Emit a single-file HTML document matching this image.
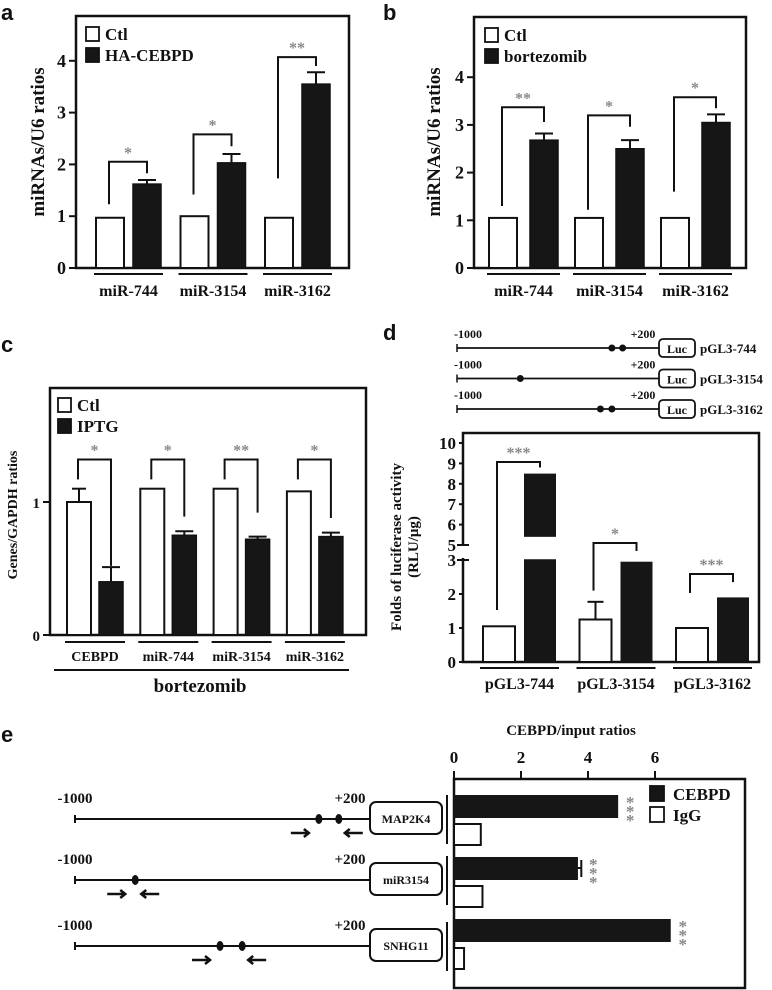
<!DOCTYPE html>
<html><head><meta charset="utf-8"><style>
html,body{margin:0;padding:0;background:#fff;}
svg{display:block;}
text{font-family:"Liberation Serif",serif;font-weight:bold;fill:#111;}
.L{font-family:"Liberation Sans",sans-serif;font-size:22px;}
</style></head><body>
<svg id="fig" width="772" height="990" viewBox="0 0 772 990" xmlns="http://www.w3.org/2000/svg">
<text class="L" x="1" y="20">a</text>
<text class="L" x="383" y="20">b</text>
<text class="L" x="1" y="352">c</text>
<text class="L" x="383" y="340">d</text>
<text class="L" x="1" y="742">e</text>
</svg>
<script>
// ---- Panel a data
const aCats=['miR-744','miR-3154','miR-3162'];
const aCtl=[0.97,1.0,0.97];
const aTrt=[1.62,2.03,3.55];
const aTrtErr=[0.08,0.17,0.23];
const aTicks=[0,1,2,3,4];
const aBrackets=[[1.23,2.05,1.83],[1.42,2.58,2.35],[1.73,4.07,3.9]];
const aStars=['*','*','**'];
// ---- Panel b data
const bCats=['miR-744','miR-3154','miR-3162'];
const bCtl=[1.05,1.05,1.05];
const bTrt=[2.68,2.5,3.05];
const bTrtErr=[0.14,0.18,0.17];
const bTicks=[0,1,2,3,4];
const bBrackets=[[1.3,3.37,3.06],[1.22,3.2,2.96],[1.6,3.58,3.35]];
const bStars=['**','*','*'];
// ---- Panel c data
const cCats=['CEBPD','miR-744','miR-3154','miR-3162'];
const cCtl=[1.0,1.1,1.1,1.08];
const cCtlErr=[0.1,0,0,0];
const cTrt=[0.4,0.75,0.72,0.74];
const cTrtErr=[0.11,0.03,0.02,0.03];
const cTicks=[0,1];
const cBrackets=[[1.17,1.32,0.52],[1.17,1.32,0.89],[1.17,1.32,0.92],[1.17,1.32,0.88]];
const cStars=['*','*','**','*'];
// ---- Panel d data
const dCats=['pGL3-744','pGL3-3154','pGL3-3162'];
const dCtl=[1.05,1.25,1.0];
const dCtlErr=[0,0.52,0];
const dTrt=[8.5,2.95,1.9];
const dTicks=[0,1,2,3,5,6,7,8,9,10];
const dBreak=[3.1,5.4];
const dBrackets=[[1.53,9.07,8.8],[2.1,5.1,4.2],[2.03,2.59,2.35]];
const dStars=['***','*','***'];
const dConstructs=['pGL3-744','pGL3-3154','pGL3-3162'];
const dSites=[[-80,-16],[-624],[-148,-80]];
// ---- Panel e data
const eGenes=['MAP2K4','miR3154','SNHG11'];
const eCebpd=[4.9,3.7,6.47];
const eCebpdErr=[0,0.1,0];
const eIgg=[0.8,0.85,0.3];
const eTicks=[0,2,4,6];
const eSites=[[-8,73],[-755],[-410,-320]];

const svg=document.getElementById('fig');
const NS='http://www.w3.org/2000/svg';
function mk(tag,a){const e=document.createElementNS(NS,tag);for(const k in a)e.setAttribute(k,a[k]);svg.appendChild(e);return e;}
function ln(x1,y1,x2,y2,w,c){return mk('line',{x1:x1,y1:y1,x2:x2,y2:y2,stroke:c||'#111','stroke-width':w||2});}
function tx(x,y,s,size,anchor,fill){const t=mk('text',{x:x,y:y,'font-size':size,'text-anchor':anchor||'middle'});if(fill)t.setAttribute('style','fill:'+fill);t.textContent=s;return t;}

function barPanel(p){
  let el;
  el=mk('rect',{x:p.x0,y:p.y0,width:p.x1-p.x0,height:p.y1-p.y0,fill:'none',stroke:'#111','stroke-width':2.5});
  
  
  p.ticks.forEach(v=>{
    el=ln(p.x0-7,p.y(v),p.x0,p.y(v),2);
    
    
    el=tx(p.x0-10,p.y(v)+6,String(v),p.tickSize,'end');
    
    
  });
  p.cats.forEach((c,i)=>{
    const cx=p.first+i*p.step, tx0=cx+p.off;
    const y0=p.y(0);
    if(p.ctlErr&&p.ctlErr[i]>0){
      el=ln(cx+p.w/2,p.y(p.ctl[i]),cx+p.w/2,p.y(p.ctl[i]+p.ctlErr[i]),2);
      
      
      el=ln(cx+p.w/2-7,p.y(p.ctl[i]+p.ctlErr[i]),cx+p.w/2+7,p.y(p.ctl[i]+p.ctlErr[i]),2);
      
      
    }
    el=mk('rect',{x:cx,y:p.y(p.ctl[i]),width:p.w,height:y0-p.y(p.ctl[i]),fill:'#fff',stroke:'#111','stroke-width':2});
    
    
    if(p.trtErr[i]>0){
      el=ln(tx0+p.w/2,p.y(p.trt[i]),tx0+p.w/2,p.y(p.trt[i]+p.trtErr[i]),2);
      
      
      el=ln(tx0+p.w/2-9,p.y(p.trt[i]+p.trtErr[i]),tx0+p.w/2+9,p.y(p.trt[i]+p.trtErr[i]),2);
      
      
    }
    el=mk('rect',{x:tx0,y:p.y(p.trt[i]),width:p.w,height:y0-p.y(p.trt[i]),fill:'#161616',stroke:'#111','stroke-width':1.5});
    
    
    const b=p.br[i], lx=cx+p.w/2-1, rx=tx0+p.w/2;
    el=mk('polyline',{points:lx+','+p.y(b[0])+' '+lx+','+p.y(b[1])+' '+rx+','+p.y(b[1])+' '+rx+','+p.y(b[2]),fill:'none',stroke:'#111','stroke-width':2});
    
    
    el=tx((lx+rx)/2,p.y(b[1])-4,p.stars[i],16,'middle','#888');
    
    
    el=ln(cx-2,p.ulY,tx0+p.w+2,p.ulY,2);
    
    
    el=tx((cx+tx0+p.w)/2,p.labY,c,p.labSize);
    
    
  });
  p.legend.forEach((s,i)=>{
    el=mk('rect',{x:p.lx,y:p.ly+i*21,width:13,height:14,fill:i?'#161616':'#fff',stroke:'#111','stroke-width':1.8});
    
    
    el=tx(p.lx+19,p.ly+i*21+13,s,17,'start');
    
    
  });
  el=tx(0,0,p.title,p.titleSize);
  el.setAttribute('transform','translate('+p.tX+','+p.tY+') rotate(-90)');
  
  
}

barPanel({id:'panel-a',x0:76,x1:349,y0:16,y1:268,y:v=>268-v*51.8,ticks:aTicks,cats:aCats,ctl:aCtl,trt:aTrt,trtErr:aTrtErr,
  first:96,step:84.5,w:28,off:37,br:aBrackets,stars:aStars,ulY:274,labY:296,labSize:16,tickSize:18,
  legend:['Ctl','HA-CEBPD'],lx:86,ly:27,title:'miRNAs/U6 ratios',titleSize:19,tX:44,tY:142});
barPanel({id:'panel-b',x0:474,x1:746,y0:17,y1:268,y:v=>268-v*47.7,ticks:bTicks,cats:bCats,ctl:bCtl,trt:bTrt,trtErr:bTrtErr,
  first:489,step:86,w:28,off:41,br:bBrackets,stars:bStars,ulY:274,labY:296,labSize:16,tickSize:18,
  legend:['Ctl','bortezomib'],lx:485,ly:28,title:'miRNAs/U6 ratios',titleSize:19,tX:440,tY:142});
barPanel({id:'panel-c',x0:50,x1:366,y0:388,y1:635,y:v=>635-v*133,ticks:cTicks,cats:cCats,ctl:cCtl,ctlErr:cCtlErr,trt:cTrt,trtErr:cTrtErr,
  first:67,step:73.3,w:24,off:32,br:cBrackets,stars:cStars,ulY:642,labY:661,labSize:14,tickSize:15,
  legend:['Ctl','IPTG'],lx:58,ly:398,title:'Genes/GAPDH ratios',titleSize:14,tX:17,tY:515});
let el;
el=ln(54,670,349,670,2);


el=tx(200,692,'bortezomib',19);



// ---- Panel d
function yD(v){if(v<=3)return 662-v*34;if(v<=5)return 560-(v-3)*7.5;return 545-(v-5)*20.4;}
el=mk('polyline',{points:'463,558 463,662 759,662 759,433 463,433 463,545',fill:'none',stroke:'#111','stroke-width':2.5});


dTicks.forEach(v=>{
  el=ln(v===3||v===5?457:459,yD(v),v===3||v===5?469:463,yD(v),2);
  
  
  el=tx(456,yD(v)+6,String(v),17,'end');
  
  
});
dCats.forEach((c,i)=>{
  const cx=483+i*96.5, tx0=cx+41, w=32;
  if(dCtlErr[i]>0){
    el=ln(cx+w/2,yD(dCtl[i]),cx+w/2,yD(dCtl[i]+dCtlErr[i]),2);
    
    
    el=ln(cx+w/2-8,yD(dCtl[i]+dCtlErr[i]),cx+w/2+8,yD(dCtl[i]+dCtlErr[i]),2);
    
    
  }
  el=mk('rect',{x:cx,y:yD(dCtl[i]),width:w,height:662-yD(dCtl[i]),fill:'#fff',stroke:'#111','stroke-width':2});
  
  
  if(dTrt[i]>dBreak[1]){
    el=mk('rect',{x:tx0,y:yD(dBreak[0]),width:w,height:662-yD(dBreak[0]),fill:'#161616'});
    
    
    el=mk('rect',{x:tx0,y:yD(dTrt[i]),width:w,height:yD(dBreak[1])-yD(dTrt[i]),fill:'#161616'});
    
    
  } else {
    el=mk('rect',{x:tx0,y:yD(dTrt[i]),width:w,height:662-yD(dTrt[i]),fill:'#161616'});
    
    
  }
  const b=dBrackets[i], lx=cx+w/2-2, rx=tx0+w/2;
  el=mk('polyline',{points:lx+','+yD(b[0])+' '+lx+','+yD(b[1])+' '+rx+','+yD(b[1])+' '+rx+','+yD(b[2]),fill:'none',stroke:'#111','stroke-width':2});
  
  
  el=tx((lx+rx)/2,yD(b[1])-4,dStars[i],16,'middle','#888');
  
  
  el=ln(cx-3,668,tx0+w+3,668,2);
  
  
  el=tx((cx+tx0+w)/2,689,c,16);
  
  
});
el=tx(0,0,'Folds of luciferase activity',15);
el.setAttribute('transform','translate(401,547) rotate(-90)');


el=tx(0,0,'(RLU/\u03bcg)',15);
el.setAttribute('transform','translate(418,547) rotate(-90)');


dConstructs.forEach((c,i)=>{
  const y=348+i*30.5, bp=v=>457+(v+1000)*(202/1200);
  el=ln(457,y,659,y,1.8);
  
  
  el=ln(457,y-4,457,y+4,1.5);
  
  
  dSites[i].forEach(s=>{
    el=mk('circle',{cx:bp(s),cy:y,r:3.5,fill:'#111'});
    
    
  });
  el=mk('rect',{x:659,y:y-9,width:36,height:18,rx:4,fill:'#fff',stroke:'#111','stroke-width':1.8});
  
  
  el=tx(677,y+5,'Luc',12);
  
  
  el=tx(700,y+5,c,13,'start');
  
  
  el=tx(468,y-10,'-1000',12);
  
  
  el=tx(643,y-10,'+200',12);
  
  
});

// ---- Panel e
const xE=v=>454+v*33.5;
el=mk('rect',{x:454,y:779,width:291,height:209,fill:'none',stroke:'#111','stroke-width':2.5});


eTicks.forEach(v=>{
  el=ln(xE(v),771,xE(v),779,2);
  
  
  el=tx(xE(v),763,String(v),17);
  
  
});
el=tx(571,735,'CEBPD/input ratios',15);


[['CEBPD','#161616'],['IgG','#fff']].forEach((l,i)=>{
  el=mk('rect',{x:650,y:786+i*21,width:14,height:15,fill:l[1],stroke:'#111','stroke-width':1.8});
  
  
  el=tx(673,800+i*21,l[0],17,'start');
  
  
});
eGenes.forEach((g,i)=>{
  const by=795+i*62;
  el=mk('rect',{x:454,y:by,width:xE(eCebpd[i])-454,height:23,fill:'#161616'});
  
  
  if(eCebpdErr[i]>0){
    el=ln(xE(eCebpd[i]),by+11,xE(eCebpd[i]+eCebpdErr[i]),by+11,2);
    
    
    el=ln(xE(eCebpd[i]+eCebpdErr[i]),by+3,xE(eCebpd[i]+eCebpdErr[i]),by+20,2);
    
    
  }
  el=mk('rect',{x:454,y:by+29,width:xE(eIgg[i])-454,height:21,fill:'#fff',stroke:'#111','stroke-width':2});
  
  
  for(let k=0;k<3;k++){
    el=tx(xE(eCebpd[i]+eCebpdErr[i])+12,by+13+k*9,'*',17,'middle','#888');
    
    
  }
  const ly=819+i*(i===2?63.5:61), bp=v=>75+(v+1000)*(295/1200);
  el=ln(75,ly,370,ly,2);
  
  
  el=ln(75,ly-4,75,ly+4,2);
  
  
  eSites[i].forEach(s=>{
    el=mk('ellipse',{cx:bp(s),cy:ly,rx:3.5,ry:5,fill:'#111'});
    
    
  });
  const s0=bp(eSites[i][0])-28, s1=bp(eSites[i][eSites[i].length-1])+3;
  el=mk('path',{d:'M'+s0+','+(ly+14)+'h18 M'+(s0+13)+','+(ly+10)+'l5,4l-5,4',fill:'none',stroke:'#111','stroke-width':2.5});
  
  
  el=mk('path',{d:'M'+(s1+3)+','+(ly+14)+'h18 M'+(s1+8)+','+(ly+10)+'l-5,4l5,4',fill:'none',stroke:'#111','stroke-width':2.5});
  
  
  el=mk('rect',{x:370,y:ly-17,width:72,height:32,rx:6,fill:'#fff',stroke:'#111','stroke-width':2});
  
  
  el=tx(406,ly+4,g,12);
  
  
  el=ln(447,ly-24,447,ly+25,2);
  
  
  el=tx(75,ly-16,'-1000',15);
  
  
  el=tx(350,ly-16,'+200',15);
  
  
});
</script>
</body></html>
